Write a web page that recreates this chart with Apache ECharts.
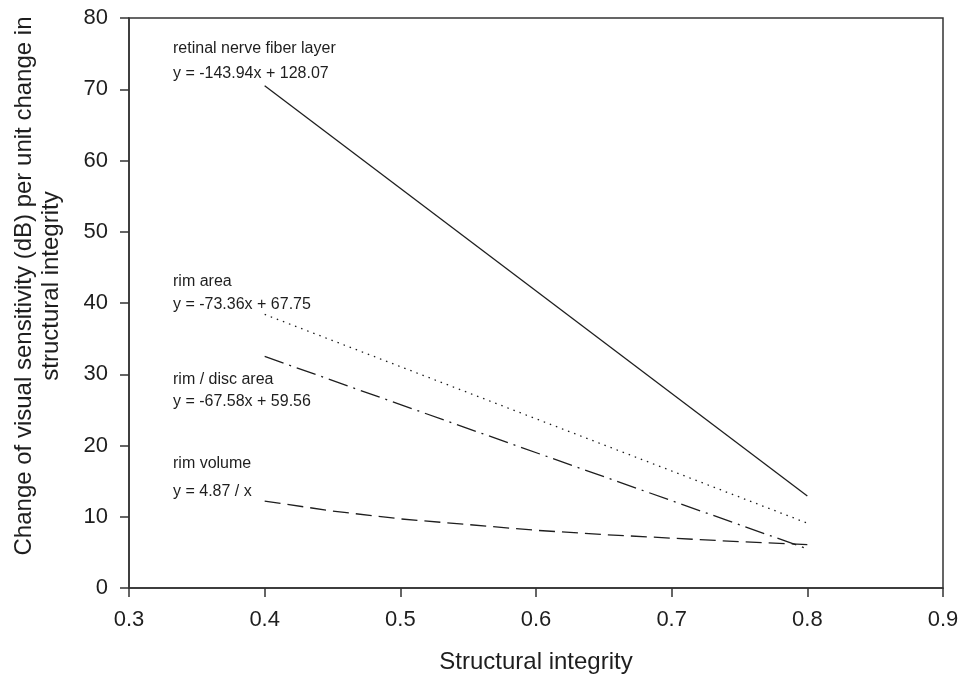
<!DOCTYPE html>
<html>
<head>
<meta charset="utf-8">
<script src="https://cdn.jsdelivr.net/npm/echarts@6/dist/echarts.min.js"></script>
<style>
    html, body { margin: 0; padding: 0; background: #fff; }
    #chart { width: 976px; height: 678px; }
</style>
</head>
<body>
<div id="chart"></div>
<script>
    // values
    const rnfl = [[0.4, 70.5], [0.8, 12.9]]
    const rimArea = [[0.4, 38.4], [0.8, 9.1]]
    const rimDisc = [[0.4, 32.5], [0.8, 5.5]]
    const rimVolume = [[0.4, 12.2], [0.45, 10.8], [0.5, 9.7], [0.55, 8.9], [0.6, 8.1],
        [0.65, 7.5], [0.7, 7.0], [0.75, 6.5], [0.8, 6.1]]

    // annotation text: [line1, line2, y of line1, y of line2]
    const notes = [
        ['retinal nerve fiber layer', 'y = -143.94x + 128.07', 49, 73.5],
        ['rim area', 'y = -73.36x + 67.75', 281.5, 305],
        ['rim / disc area', 'y = -67.58x + 59.56', 379.5, 402],
        ['rim volume', 'y = 4.87 / x', 464, 491.5]
    ]

    const FONT = '"Liberation Sans", Arial, sans-serif'
    const INK = '#1e1e1e'

    const chart = echarts.init(document.getElementById('chart'))

    // 文字标注
    let graphics = []
    notes.forEach(([a, b, y1, y2]) => {
        graphics.push({type: 'text', x: 173, y: y1,
            style: {text: a, font: '16px ' + FONT, fill: INK, textVerticalAlign: 'middle'}})
        graphics.push({type: 'text', x: 173, y: y2,
            style: {text: b, font: '16px ' + FONT, fill: INK, textVerticalAlign: 'middle'}})
    })
    // y 轴标题 (原图略高于坐标轴中点)
    graphics.push({
        type: 'text', x: 38, y: 286, rotation: Math.PI / 2,
        style: {
            text: 'Change of visual sensitivity (dB) per unit change in\nstructural integrity',
            font: '24px ' + FONT, fill: INK, lineHeight: 27,
            textAlign: 'center', textVerticalAlign: 'middle'
        }
    })

    const line = (name, data, type) => ({
        name,
        type: 'line',
        data,
        symbol: 'none',
        smooth: false,
        lineStyle: {color: INK, width: 1.3, type}
    })

    chart.setOption({
        animation: false,
        grid: {
            left: 129, right: 33, top: 18, bottom: 90,
            outerBoundsMode: 'none',
            show: true, borderColor: '#333', borderWidth: 1.5
        },
        xAxis: {
            type: 'value',
            min: 0.3, max: 0.9, interval: 0.1,
            name: 'Structural integrity',
            nameLocation: 'middle',
            nameGap: 62,
            nameTextStyle: {fontFamily: FONT, fontSize: 24, color: INK},
            axisLine: {show: true, lineStyle: {color: '#333', width: 1.5}},
            axisTick: {show: true, inside: false, length: 9, lineStyle: {color: '#333', width: 1.5}},
            axisLabel: {
                fontFamily: FONT, fontSize: 22, color: INK, margin: 21,
                formatter: v => v.toFixed(1)
            },
            splitLine: {show: false}
        },
        yAxis: {
            type: 'value',
            min: 0, max: 80, interval: 10,
            axisLine: {show: true, lineStyle: {color: '#333', width: 1.5}},
            axisTick: {show: true, inside: false, length: 9, lineStyle: {color: '#333', width: 1.5}},
            axisLabel: {fontFamily: FONT, fontSize: 22, color: INK, margin: 21},
            splitLine: {show: false}
        },
        series: [
            line('retinal nerve fiber layer', rnfl, 'solid'),
            line('rim area', rimArea, [1.5, 5]),
            line('rim / disc area', rimDisc, [20, 6, 2, 6]),
            line('rim volume', rimVolume, [16, 7])
        ],
        graphic: graphics
    })
</script>
</body>
</html>
